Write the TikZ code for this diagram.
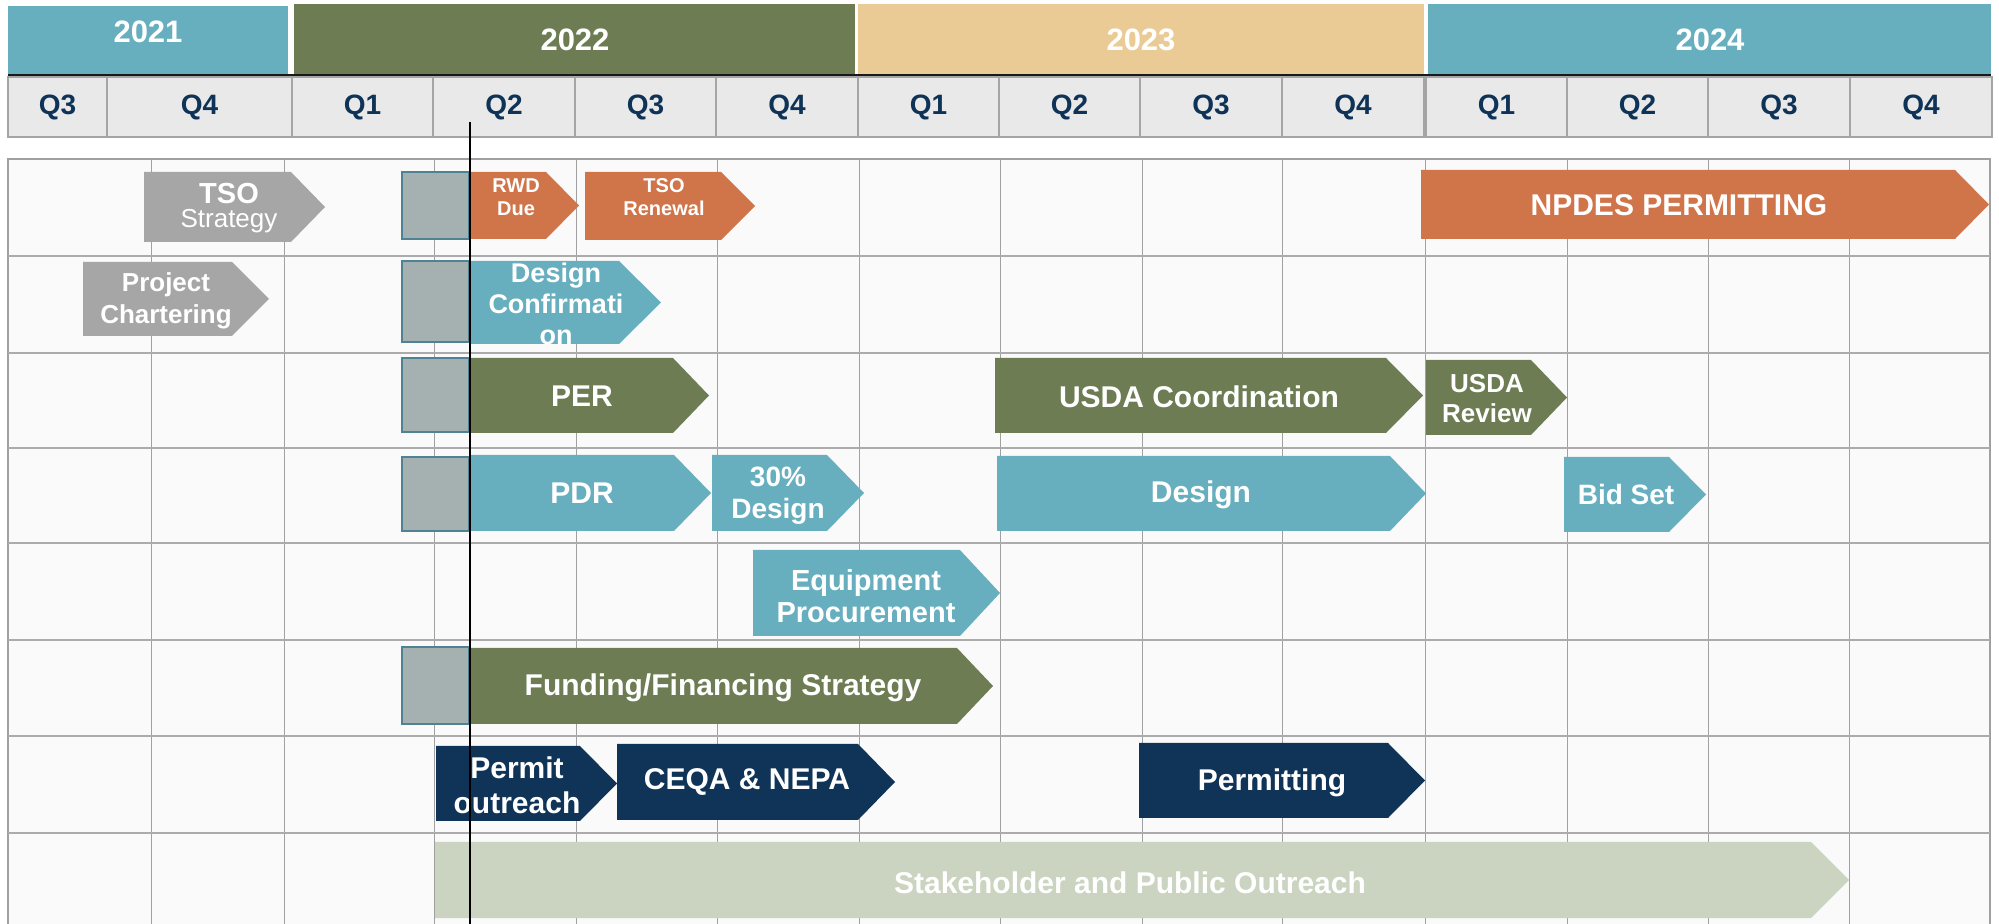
\documentclass[tikz,border=0pt]{standalone}
\usepackage{fontspec}
\setmainfont{Liberation Sans}

\definecolor{cTeal}{HTML}{67AFBF}
\definecolor{cOlive}{HTML}{6D7C53}
\definecolor{cSand}{HTML}{EBCB95}
\definecolor{cOrange}{HTML}{D0744A}
\definecolor{cGray}{HTML}{A6A6A6}
\definecolor{cNavy}{HTML}{0F3457}
\definecolor{cSage}{HTML}{CBD4C0}
\definecolor{cHold}{HTML}{A5B1B1}
\definecolor{cHoldEdge}{HTML}{4F8293}
\definecolor{cQfill}{HTML}{E9E9E9}
\definecolor{cQline}{HTML}{A5A5A5}
\definecolor{cGridBg}{HTML}{FAFAFA}
\definecolor{cGrid}{HTML}{A0A0A0}
\definecolor{cRow}{HTML}{ABABAB}
\definecolor{cQtext}{HTML}{0E3356}

% task bar: colour, start x, body end x, tip x, top y, bottom y
\newcommand\gbar[6]{%
  \fill[#1] (#2,#5) -- (#3,#5) -- (#4,{(#5+#6)/2}) -- (#3,#6) -- (#2,#6) -- cycle;}

\tikzset{
  fs/.style 2 args={font=\fontsize{#1}{#2}\selectfont\bfseries},
  lab/.style={text=white, align=center, inner sep=0pt},
  yearlab/.style={lab, fs={15.5}{18}},
  qlab/.style={text=cQtext, inner sep=0pt, fs={14}{16}},
  qcell/.style={fill=cQfill, draw=cQline, line width=0.75pt},
  hold/.style={fill=cHold, draw=cHoldEdge, line width=1.1pt},
}

\begin{document}
\begin{tikzpicture}[x=0.5pt,y=-0.5pt]
\useasboundingbox (0,0) rectangle (1999,924);
\fill[white] (0,0) rectangle (1999,924);

% year band
\fill[cTeal]  (8,6)    rectangle (288,74);
\fill[cOlive] (294,4)  rectangle (855,74);
\fill[cSand]  (858,4)  rectangle (1424,74);
\fill[cTeal]  (1428,4) rectangle (1991,74);
\node[yearlab] (y2021) at (148,32) {2021};
\node[yearlab] (y2022) at (575,40) {2022};
\node[yearlab] (y2023) at (1141,40) {2023};
\node[yearlab] (y2024) at (1710,40) {2024};
\draw[line width=1.3pt, black!90] (8,75.5) -- (1991,75.5);

% quarter row
\foreach \xa/\xb/\q/\nm in {8/107/Q3/q1, 107/292/Q4/q2, 292/433/Q1/q3, 433/575/Q2/q4,
    575/716/Q3/q5, 716/858/Q4/q6, 858/999/Q1/q7, 999/1140/Q2/q8, 1140/1282/Q3/q9,
    1282/1424/Q4/q10, 1426/1567/Q1/q11, 1567/1708/Q2/q12, 1708/1850/Q3/q13, 1850/1992/Q4/q14}{
  \path[qcell] (\xa,77) rectangle (\xb,137);
  \node[qlab] (\nm) at ({(\xa+\xb)/2},107) {\q};
}

% schedule grid
\fill[cGridBg] (8,159) rectangle (1990,924);
\foreach \x in {151,284,434,576,717,859,1000,1142,1282,1425,1567,1708,1849}
  \draw[cGrid, line width=0.5pt] (\x,159) -- (\x,924);
\draw[cGrid, line width=0.6pt] (8,924) -- (8,159) -- (1990,159) -- (1990,924);
\foreach \y in {256,353,448,543,640,736,833}
  \draw[cRow, line width=1.1pt] (8,\y) -- (1990,\y);

% carried-over work
\path[hold] (402,172) rectangle (469,239);
\path[hold] (402,261) rectangle (469,342);
\path[hold] (402,358) rectangle (469,432);
\path[hold] (402,457) rectangle (469,531);
\path[hold] (402,647) rectangle (469,724);

% row 1
\gbar{cGray}{144}{291}{325}{172}{242}
\gbar{cOrange}{469}{546}{579}{172}{239}
\gbar{cOrange}{585}{721}{755}{172}{240}
\gbar{cOrange}{1421}{1955}{1989}{170}{239}
\node[lab, font=\fontsize{13}{12}\selectfont] (tso) at (229,208)
  {\textbf{\fontsize{14.5}{12}\selectfont TSO}\\Strategy};
\node[lab, fs={10}{11.5}] (rwd) at (516,197) {RWD\\Due};
\node[lab, fs={10}{11.5}] (tsoren) at (664,197) {TSO\\Renewal};
\node[lab, fs={15}{17}] (npdes) at (1679,205) {NPDES PERMITTING};

% row 2
\gbar{cGray}{83}{232}{269}{262}{336}
\gbar{cTeal}{469}{619}{661}{261}{344}
\node[lab, fs={13}{16}] (charter) at (166,301) {Project\\Chartering};
\node[lab, fs={13.5}{15.5}] (dconf) at (556,304) {Design\\Confirmati\\on};

% row 3
\gbar{cOlive}{469}{673}{709}{358}{433}
\gbar{cOlive}{995}{1386}{1423}{358}{433}
\gbar{cOlive}{1426}{1531}{1567}{360}{435}
\node[lab, fs={15}{17}] (per) at (582,396) {PER};
\node[lab, fs={15}{17}] (usdac) at (1199,397) {USDA Coordination};
\node[lab, fs={13}{15}] (usdar) at (1487,399) {USDA\\Review};

% row 4
\gbar{cTeal}{469}{674}{711}{455}{531}
\gbar{cTeal}{712}{827}{864}{455}{531}
\gbar{cTeal}{997}{1390}{1426}{456}{531}
\gbar{cTeal}{1564}{1669}{1706}{457}{532}
\node[lab, fs={15}{17}] (pdr) at (582,493) {PDR};
\node[lab, fs={14}{16}] (d30) at (778,496) {30\%\\Design};
\node[lab, fs={15}{17}] (design) at (1201,495) {Design};
\node[lab, fs={14}{16}] (bid) at (1626,494) {Bid Set};

% row 5
\gbar{cTeal}{753}{960}{1000}{550}{636}
\node[lab, fs={14.5}{16}] (equip) at (866,596) {Equipment\\Procurement};

% row 6
\gbar{cOlive}{471}{957}{993}{648}{724}
\node[lab, fs={15}{17}] (fund) at (723,688) {Funding/Financing Strategy};

% row 7
\gbar{cNavy}{436}{580}{617}{746}{821}
\gbar{cNavy}{617}{858}{895}{744}{820}
\gbar{cNavy}{1139}{1388}{1425}{743}{818}
\node[lab, fs={15}{17.5}] (permit) at (517,785) {Permit\\outreach};
\node[lab, fs={15}{17}] (ceqa) at (747,782) {CEQA \& NEPA};
\node[lab, fs={15}{17}] (permitting) at (1272,783) {Permitting};

% row 8
\gbar{cSage}{435}{1811}{1849}{842}{918}
\node[lab, fs={15}{17}] (stake) at (1130,883) {Stakeholder and Public Outreach};

% status date
\coordinate (today top) at (470,122);
\coordinate (today bot) at (470,924);
\draw[line width=1.2pt, black] (today top) -- (today bot);
\end{tikzpicture}
\end{document}
